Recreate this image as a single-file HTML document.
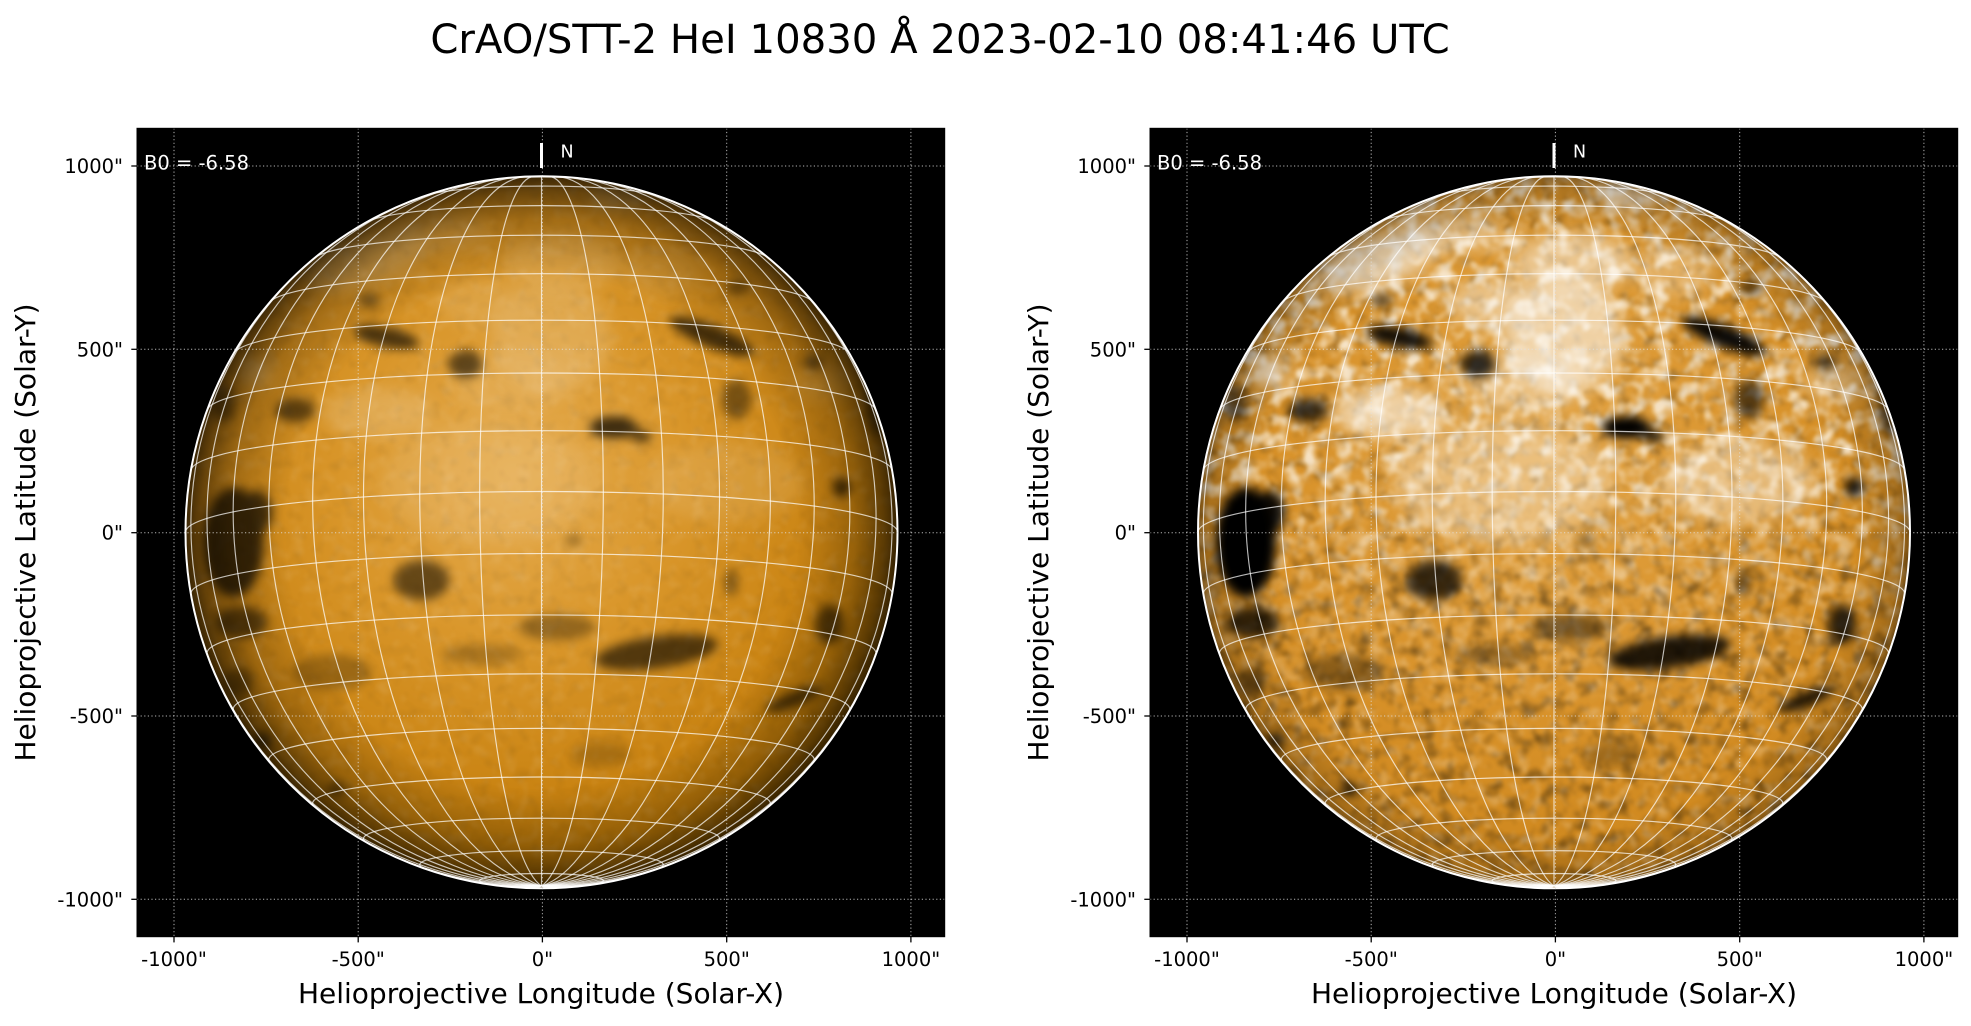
<!DOCTYPE html>
<html><head><meta charset="utf-8"><style>
html,body{margin:0;padding:0;background:#fff;}
svg{display:block;}
.gr path,.gr line{vector-effect:non-scaling-stroke;}
text{font-family:"DejaVu Sans","Liberation Sans",sans-serif;}
</style></head><body>
<svg xmlns="http://www.w3.org/2000/svg" width="1971" height="1026" viewBox="0 0 1971 1026">
<defs>
<clipPath id="dc"><circle cx="0" cy="0" r="356"/></clipPath>
<radialGradient id="baseL" cx="0.46" cy="0.42" r="0.6">
<stop offset="0" stop-color="#e6ad52"/><stop offset="0.4" stop-color="#d9962a"/><stop offset="0.75" stop-color="#c98312"/><stop offset="1" stop-color="#ae6e00"/>
</radialGradient>
<radialGradient id="limbL" cx="0.5" cy="0.5" r="0.5">
<stop offset="0" stop-color="#000" stop-opacity="0"/><stop offset="0.72" stop-color="#000" stop-opacity="0"/><stop offset="0.88" stop-color="#000" stop-opacity="0.22"/><stop offset="0.96" stop-color="#000" stop-opacity="0.5"/><stop offset="1" stop-color="#000" stop-opacity="0.7"/>
</radialGradient>
<radialGradient id="baseR" cx="0.48" cy="0.4" r="0.6">
<stop offset="0" stop-color="#e3a445"/><stop offset="0.6" stop-color="#d8922a"/><stop offset="1" stop-color="#cd861c"/>
</radialGradient>
<radialGradient id="limbR" cx="0.5" cy="0.5" r="0.5">
<stop offset="0" stop-color="#000" stop-opacity="0"/><stop offset="0.85" stop-color="#000" stop-opacity="0"/><stop offset="0.97" stop-color="#000" stop-opacity="0.2"/><stop offset="1" stop-color="#000" stop-opacity="0.4"/>
</radialGradient>
<linearGradient id="ng" x1="0" y1="0" x2="0" y2="1">
<stop offset="0" stop-color="#fff"/><stop offset="0.4" stop-color="#fff"/><stop offset="0.58" stop-color="#666"/><stop offset="0.75" stop-color="#000"/>
</linearGradient>
<linearGradient id="sg" x1="0" y1="0" x2="0" y2="1">
<stop offset="0" stop-color="#333"/><stop offset="0.45" stop-color="#333"/><stop offset="0.6" stop-color="#fff"/><stop offset="1" stop-color="#fff"/>
</linearGradient>
<mask id="northM" maskUnits="userSpaceOnUse" x="-360" y="-360" width="720" height="720"><rect x="-360" y="-360" width="720" height="720" fill="url(#ng)"/></mask>
<mask id="southM" maskUnits="userSpaceOnUse" x="-360" y="-360" width="720" height="720"><rect x="-360" y="-360" width="720" height="720" fill="url(#sg)"/></mask>
<filter id="b5" x="-50%" y="-50%" width="200%" height="200%"><feGaussianBlur stdDeviation="5"/></filter>
<filter id="b8" x="-50%" y="-50%" width="200%" height="200%"><feGaussianBlur stdDeviation="8"/></filter>
<filter id="motD" x="0" y="0" width="1" height="1">
<feTurbulence type="fractalNoise" baseFrequency="0.08" numOctaves="2" seed="7"/>
<feColorMatrix type="matrix" values="0 0 0 0 0  0 0 0 0 0  0 0 0 0 0  -2.5 0 0 0 1.2"/>
<feGaussianBlur stdDeviation="1.5"/>
</filter>
<filter id="motB" x="0" y="0" width="1" height="1">
<feTurbulence type="fractalNoise" baseFrequency="0.08" numOctaves="2" seed="3"/>
<feColorMatrix type="matrix" values="0 0 0 0 1  0 0 0 0 1  0 0 0 0 1  0 2.5 0 0 -1.25"/>
<feGaussianBlur stdDeviation="1.5"/>
</filter>
<filter id="motB2" x="0" y="0" width="1" height="1">
<feTurbulence type="fractalNoise" baseFrequency="0.06" numOctaves="2" seed="11"/>
<feColorMatrix type="matrix" values="0 0 0 0 1  0 0 0 0 0.97  0 0 0 0 0.9  0 3 0 0 -1.35"/>
<feGaussianBlur stdDeviation="1.2"/>
</filter>
<filter id="motD2" x="0" y="0" width="1" height="1">
<feTurbulence type="fractalNoise" baseFrequency="0.06" numOctaves="2" seed="5"/>
<feColorMatrix type="matrix" values="0 0 0 0 0  0 0 0 0 0  0 0 0 0 0  -3 0 0 0 1.45"/>
<feGaussianBlur stdDeviation="1.5"/>
</filter>

<g id="darks" filter="url(#b5)" fill="#000">
<ellipse cx="-308" cy="10" rx="30" ry="55"/>
<ellipse cx="-285" cy="-20" rx="16" ry="22" fill-opacity="0.9"/>
<ellipse cx="-300" cy="90" rx="26" ry="16" fill-opacity="0.75"/>
<ellipse cx="-303" cy="150" rx="14" ry="14" fill-opacity="0.5"/>
<ellipse cx="-155" cy="-195" rx="33" ry="10" transform="rotate(12 -155 -195)" fill-opacity="0.9"/>
<ellipse cx="-172" cy="-232" rx="10" ry="7" fill-opacity="0.6"/>
<ellipse cx="-76" cy="-168" rx="17" ry="14" fill-opacity="0.8"/>
<ellipse cx="72" cy="-105" rx="24" ry="11"/>
<ellipse cx="100" cy="-96" rx="10" ry="6" fill-opacity="0.9"/>
<ellipse cx="170" cy="-196" rx="45" ry="11" transform="rotate(22 170 -196)" fill-opacity="0.95"/>
<ellipse cx="195" cy="-133" rx="15" ry="20" fill-opacity="0.6"/>
<ellipse cx="300" cy="-45" rx="9" ry="10" fill-opacity="0.9"/>
<ellipse cx="-246" cy="-122" rx="20" ry="12" fill-opacity="0.75"/>
<ellipse cx="-318" cy="-128" rx="12" ry="18" fill-opacity="0.55"/>
<ellipse cx="-120" cy="48" rx="28" ry="20" fill-opacity="0.75"/>
<ellipse cx="115" cy="120" rx="62" ry="16" transform="rotate(-8 115 120)" fill-opacity="0.85"/>
<ellipse cx="288" cy="92" rx="14" ry="20" fill-opacity="0.8"/>
<ellipse cx="252" cy="167" rx="30" ry="7" transform="rotate(-22 252 167)" fill-opacity="0.9"/>
<ellipse cx="-205" cy="257" rx="9" ry="6" fill-opacity="0.7"/>
<ellipse cx="15" cy="95" rx="38" ry="13" fill-opacity="0.45"/>
<ellipse cx="-278" cy="208" rx="8" ry="8" fill-opacity="0.8"/>
<ellipse cx="190" cy="50" rx="6" ry="14" fill-opacity="0.6"/>
<ellipse cx="-60" cy="122" rx="40" ry="10" fill-opacity="0.3"/>
<ellipse cx="-210" cy="140" rx="40" ry="18" fill-opacity="0.35"/>
<ellipse cx="60" cy="222" rx="30" ry="12" fill-opacity="0.25"/>
<ellipse cx="196" cy="-245" rx="12" ry="7" fill-opacity="0.6"/>
<ellipse cx="272" cy="-170" rx="10" ry="8" fill-opacity="0.6"/>
<ellipse cx="335" cy="-130" rx="10" ry="35" fill-opacity="0.5"/>
<ellipse cx="32" cy="8" rx="8" ry="5" fill-opacity="0.5"/>
</g>

<g id="brights" filter="url(#b8)" fill="#fff">
<ellipse cx="10" cy="-195" rx="60" ry="55" fill-opacity="0.55"/>
<ellipse cx="-175" cy="-272" rx="65" ry="25" transform="rotate(-18 -175 -272)" fill-opacity="0.6"/>
<ellipse cx="-165" cy="-120" rx="55" ry="25" fill-opacity="0.55"/>
<ellipse cx="-285" cy="-160" rx="16" ry="14" fill-opacity="0.7"/>
<ellipse cx="75" cy="-335" rx="30" ry="12" fill-opacity="0.55"/>
<ellipse cx="185" cy="-50" rx="80" ry="40" fill-opacity="0.35"/>
<ellipse cx="-50" cy="-50" rx="110" ry="60" fill-opacity="0.3"/>
<ellipse cx="20" cy="-270" rx="60" ry="30" fill-opacity="0.45"/>
<ellipse cx="-60" cy="-230" rx="45" ry="25" fill-opacity="0.4"/>
<ellipse cx="280" cy="-150" rx="30" ry="20" fill-opacity="0.3"/>
<ellipse cx="-100" cy="-300" rx="50" ry="20" fill-opacity="0.35"/>
<ellipse cx="-30" cy="-150" rx="60" ry="30" fill-opacity="0.3"/>
<ellipse cx="120" cy="-260" rx="40" ry="25" fill-opacity="0.25"/>
</g>

<g id="grid" class="gr" fill="none" stroke="#fff" stroke-opacity="0.72" stroke-width="1.15">
<line x1="0" y1="0.9934" x2="0" y2="-1"/>
<path transform="matrix(0.17365,-0.11286,0,-0.9934,0,0)" d="M0,-1A1,1 0 0,1 .11635,.99321"/>
<path transform="matrix(-0.17365,-0.11286,0,-0.9934,0,0)" d="M0,-1A1,1 0 0,1 .11635,.99321"/>
<path transform="matrix(0.34202,-0.10769,0,-0.9934,0,0)" d="M0,-1A1,1 0 0,1 .12186,.99255"/>
<path transform="matrix(-0.34202,-0.10769,0,-0.9934,0,0)" d="M0,-1A1,1 0 0,1 .12186,.99255"/>
<path transform="matrix(0.5,-0.09925,0,-0.9934,0,0)" d="M0,-1A1,1 0 0,1 .13205,.99124"/>
<path transform="matrix(-0.5,-0.09925,0,-0.9934,0,0)" d="M0,-1A1,1 0 0,1 .13205,.99124"/>
<path transform="matrix(0.64279,-0.08779,0,-0.9934,0,0)" d="M0,-1A1,1 0 0,1 .14892,.98885"/>
<path transform="matrix(-0.64279,-0.08779,0,-0.9934,0,0)" d="M0,-1A1,1 0 0,1 .14892,.98885"/>
<path transform="matrix(0.76604,-0.07366,0,-0.9934,0,0)" d="M0,-1A1,1 0 0,1 .17666,.98427"/>
<path transform="matrix(-0.76604,-0.07366,0,-0.9934,0,0)" d="M0,-1A1,1 0 0,1 .17666,.98427"/>
<path transform="matrix(0.86603,-0.0573,0,-0.9934,0,0)" d="M0,-1A1,1 0 0,1 .22483,.9744"/>
<path transform="matrix(-0.86603,-0.0573,0,-0.9934,0,0)" d="M0,-1A1,1 0 0,1 .22483,.9744"/>
<path transform="matrix(0.93969,-0.0392,0,-0.9934,0,0)" d="M0,-1A1,1 0 0,1 .31962,.94755"/>
<path transform="matrix(-0.93969,-0.0392,0,-0.9934,0,0)" d="M0,-1A1,1 0 0,1 .31962,.94755"/>
<path transform="matrix(0.98481,-0.0199,0,-0.9934,0,0)" d="M0,-1A1,1 0 0,1 .55337,.83294"/>
<path transform="matrix(-0.98481,-0.0199,0,-0.9934,0,0)" d="M0,-1A1,1 0 0,1 .55337,.83294"/>
<path transform="matrix(1,0,0,-0.9934,0,0)" d="M0,-1A1,1 0 0,1 1,0"/>
<path transform="matrix(-1,0,0,-0.9934,0,0)" d="M0,-1A1,1 0 0,1 1,0"/>
<path transform="matrix(0.98481,0.0199,0,-0.9934,0,0)" d="M0,-1A1,1 0 0,1 .55337,-.83294"/>
<path transform="matrix(-0.98481,0.0199,0,-0.9934,0,0)" d="M0,-1A1,1 0 0,1 .55337,-.83294"/>
<path transform="matrix(0.93969,0.0392,0,-0.9934,0,0)" d="M0,-1A1,1 0 0,1 .31962,-.94755"/>
<path transform="matrix(-0.93969,0.0392,0,-0.9934,0,0)" d="M0,-1A1,1 0 0,1 .31962,-.94755"/>
<path transform="matrix(0.86603,0.0573,0,-0.9934,0,0)" d="M0,-1A1,1 0 0,1 .22483,-.9744"/>
<path transform="matrix(-0.86603,0.0573,0,-0.9934,0,0)" d="M0,-1A1,1 0 0,1 .22483,-.9744"/>
<path transform="matrix(0.76604,0.07366,0,-0.9934,0,0)" d="M0,-1A1,1 0 0,1 .17666,-.98427"/>
<path transform="matrix(-0.76604,0.07366,0,-0.9934,0,0)" d="M0,-1A1,1 0 0,1 .17666,-.98427"/>
<path transform="matrix(0.64279,0.08779,0,-0.9934,0,0)" d="M0,-1A1,1 0 0,1 .14892,-.98885"/>
<path transform="matrix(-0.64279,0.08779,0,-0.9934,0,0)" d="M0,-1A1,1 0 0,1 .14892,-.98885"/>
<path transform="matrix(0.5,0.09925,0,-0.9934,0,0)" d="M0,-1A1,1 0 0,1 .13205,-.99124"/>
<path transform="matrix(-0.5,0.09925,0,-0.9934,0,0)" d="M0,-1A1,1 0 0,1 .13205,-.99124"/>
<path transform="matrix(0.34202,0.10769,0,-0.9934,0,0)" d="M0,-1A1,1 0 0,1 .12186,-.99255"/>
<path transform="matrix(-0.34202,0.10769,0,-0.9934,0,0)" d="M0,-1A1,1 0 0,1 .12186,-.99255"/>
<path transform="matrix(0.17365,0.11286,0,-0.9934,0,0)" d="M0,-1A1,1 0 0,1 .11635,-.99321"/>
<path transform="matrix(-0.17365,0.11286,0,-0.9934,0,0)" d="M0,-1A1,1 0 0,1 .11635,-.99321"/>
<path transform="matrix(0,-0.1146,1,0,0,0)" d="M0,-1A1,1 0 0,1 0,1"/>
<path transform="matrix(0,-0.11286,0.98481,0,0,-0.1725)" d="M.02034,-.99979A1,1 0 0,1 .02034,.99979"/>
<path transform="matrix(0,-0.10769,0.93969,0,0,-0.33976)" d="M.04199,-.99912A1,1 0 0,1 .04199,.99912"/>
<path transform="matrix(0,-0.09925,0.86603,0,0,-0.4967)" d="M.0666,-.99778A1,1 0 0,1 .0666,.99778"/>
<path transform="matrix(0,-0.08779,0.76604,0,0,-0.63855)" d="M.0968,-.9953A1,1 0 0,1 .0968,.9953"/>
<path transform="matrix(0,-0.07366,0.64279,0,0,-0.76099)" d="M.13748,-.9905A1,1 0 0,1 .13748,.9905"/>
<path transform="matrix(0,-0.0573,0.5,0,0,-0.86031)" d="M.19981,-.97983A1,1 0 0,1 .19981,.97983"/>
<path transform="matrix(0,-0.0392,0.34202,0,0,-0.93349)" d="M.31695,-.94844A1,1 0 0,1 .31695,.94844"/>
<path transform="matrix(0,-0.0199,0.17365,0,0,-0.97831)" d="M.65424,-.75629A1,1 0 0,1 .65424,.75629"/>
<path transform="matrix(0,-0.11286,0.98481,0,0,0.1725)" d="M-.02034,-.99979A1,1 0 1,1 -.02034,.99979"/>
<path transform="matrix(0,-0.10769,0.93969,0,0,0.33976)" d="M-.04199,-.99912A1,1 0 1,1 -.04199,.99912"/>
<path transform="matrix(0,-0.09925,0.86603,0,0,0.4967)" d="M-.0666,-.99778A1,1 0 1,1 -.0666,.99778"/>
<path transform="matrix(0,-0.08779,0.76604,0,0,0.63855)" d="M-.0968,-.9953A1,1 0 1,1 -.0968,.9953"/>
<path transform="matrix(0,-0.07366,0.64279,0,0,0.76099)" d="M-.13748,-.9905A1,1 0 1,1 -.13748,.9905"/>
<path transform="matrix(0,-0.0573,0.5,0,0,0.86031)" d="M-.19981,-.97983A1,1 0 1,1 -.19981,.97983"/>
<path transform="matrix(0,-0.0392,0.34202,0,0,0.93349)" d="M-.31695,-.94844A1,1 0 1,1 -.31695,.94844"/>
<path transform="matrix(0,-0.0199,0.17365,0,0,0.97831)" d="M-.65424,-.75629A1,1 0 1,1 -.65424,.75629"/>
</g>

<g id="axgrid" fill="none" stroke="#e0e0e0" stroke-opacity="0.8" stroke-width="1" stroke-dasharray="1.2 2.4">
<line x1="174" y1="128.3" x2="174" y2="936.7"/>
<line x1="358.2" y1="128.3" x2="358.2" y2="936.7"/>
<line x1="542.4" y1="128.3" x2="542.4" y2="936.7"/>
<line x1="726.7" y1="128.3" x2="726.7" y2="936.7"/>
<line x1="910.9" y1="128.3" x2="910.9" y2="936.7"/>
<line x1="137" y1="166" x2="944.7" y2="166"/>
<line x1="137" y1="349.3" x2="944.7" y2="349.3"/>
<line x1="137" y1="532.7" x2="944.7" y2="532.7"/>
<line x1="137" y1="716" x2="944.7" y2="716"/>
<line x1="137" y1="899.3" x2="944.7" y2="899.3"/>
</g>

<g id="ticks" stroke="#000" stroke-width="1.3">
<line x1="174" y1="936.7" x2="174" y2="942.4"/>
<line x1="358.2" y1="936.7" x2="358.2" y2="942.4"/>
<line x1="542.4" y1="936.7" x2="542.4" y2="942.4"/>
<line x1="726.7" y1="936.7" x2="726.7" y2="942.4"/>
<line x1="910.9" y1="936.7" x2="910.9" y2="942.4"/>
<line x1="131.3" y1="166" x2="137" y2="166"/>
<line x1="131.3" y1="349.3" x2="137" y2="349.3"/>
<line x1="131.3" y1="532.7" x2="137" y2="532.7"/>
<line x1="131.3" y1="716" x2="137" y2="716"/>
<line x1="131.3" y1="899.3" x2="137" y2="899.3"/>
</g>

<g id="labels" fill="#000">
<g font-size="19.5" text-anchor="middle">
<text x="174" y="966">-1000"</text>
<text x="358.2" y="966">-500"</text>
<text x="542.4" y="966">0"</text>
<text x="726.7" y="966">500"</text>
<text x="910.9" y="966">1000"</text>
</g>
<g font-size="19.5" text-anchor="end">
<text x="123" y="173">1000"</text>
<text x="123" y="356.3">500"</text>
<text x="123" y="539.7">0"</text>
<text x="123" y="723">-500"</text>
<text x="123" y="906.3">-1000"</text>
</g>
<text x="541" y="1003" font-size="28" text-anchor="middle">Helioprojective Longitude (Solar-X)</text>
<text transform="translate(35,532.5) rotate(-90)" font-size="28" text-anchor="middle">Helioprojective Latitude (Solar-Y)</text>
</g>
</defs>

<rect x="0" y="0" width="1971" height="1026" fill="#fff"/>
<text x="940" y="53" font-size="40.2" text-anchor="middle" fill="#000">CrAO/STT-2 HeI 10830 Å 2023-02-10 08:41:46 UTC</text>

<!-- LEFT PANEL -->
<rect x="137" y="128.3" width="807.7" height="808.4" fill="#000"/>
<g transform="translate(541.5,532.3)">
<g clip-path="url(#dc)">
<circle r="356" fill="url(#baseL)"/>
<rect x="-360" y="-360" width="720" height="720" filter="url(#motD)" opacity="0.08"/>
<rect x="-360" y="-360" width="720" height="720" filter="url(#motB)" opacity="0.1"/>
<use href="#brights" opacity="0.3"/>
<use href="#darks" opacity="0.72"/>
<circle r="356" fill="url(#limbL)"/>
</g>
</g>
<use href="#grid" transform="translate(541.5,532.3) scale(356)"/>
<circle cx="541.5" cy="532.3" r="356" fill="none" stroke="#fff" stroke-width="2"/>
<use href="#axgrid"/>
<rect x="137" y="128.3" width="807.7" height="808.4" fill="none" stroke="#000" stroke-width="1"/>
<use href="#ticks"/>
<use href="#labels"/>
<line x1="541.5" y1="143" x2="541.5" y2="168" stroke="#fff" stroke-width="3"/>
<text x="560.5" y="157.5" font-size="17.5" fill="#fff">N</text>
<text x="144" y="169.5" font-size="19.5" fill="#fff">B0 = -6.58</text>

<!-- RIGHT PANEL -->
<rect x="1150" y="128.3" width="807.7" height="808.4" fill="#000"/>
<g transform="translate(1554,532.3)">
<g clip-path="url(#dc)">
<circle r="356" fill="url(#baseR)"/>
<rect x="-360" y="-360" width="720" height="720" filter="url(#motD)" opacity="0.3"/>
<rect x="-360" y="-360" width="720" height="720" filter="url(#motB)" opacity="0.3"/>
<g mask="url(#northM)"><rect x="-360" y="-360" width="720" height="720" filter="url(#motB2)" opacity="0.75"/></g>
<g mask="url(#southM)"><rect x="-360" y="-360" width="720" height="720" filter="url(#motD2)" opacity="0.35"/></g>
<use href="#brights"/>
<use href="#darks"/>
<circle r="356" fill="url(#limbR)"/>
</g>
</g>
<use href="#grid" transform="translate(1554,532.3) scale(356)"/>
<circle cx="1554" cy="532.3" r="356" fill="none" stroke="#fff" stroke-width="2"/>
<g transform="translate(1013,0)">
<use href="#axgrid"/>
<rect x="137" y="128.3" width="807.7" height="808.4" fill="none" stroke="#000" stroke-width="1"/>
<use href="#ticks"/>
<use href="#labels"/>
</g>
<line x1="1554" y1="143" x2="1554" y2="168" stroke="#fff" stroke-width="3"/>
<text x="1573" y="157.5" font-size="17.5" fill="#fff">N</text>
<text x="1157" y="169.5" font-size="19.5" fill="#fff">B0 = -6.58</text>
</svg>
</body></html>
